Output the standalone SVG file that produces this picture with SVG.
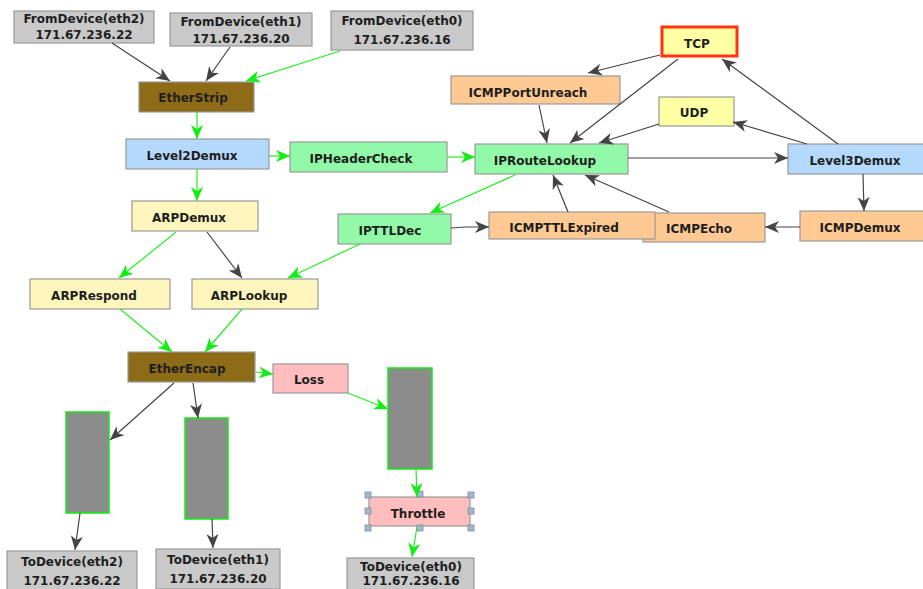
<svg xmlns="http://www.w3.org/2000/svg" width="923" height="589" viewBox="0 0 923 589">
<style>
.box{stroke:#999999;stroke-width:1.2}
.dev{fill:#c9c9c9}
.eth{fill:#8e6c17}
.demux{fill:#b5d9fc}
.ip{fill:#92f9a8}
.arp{fill:#fff6bd}
.yel{fill:#ffffa3}
.icmp{fill:#ffc993}
.pink{fill:#ffbdbd}
.bar{fill:#8c8c8c;stroke:#11ee11;stroke-width:1.5}
.t{font-family:"DejaVu Sans",Verdana,sans-serif;font-weight:bold;font-size:12px;fill:#1e1e1e;text-anchor:middle}
.t2{font-size:12px}
.g{fill:none;stroke:#444444;stroke-width:1.2}
.gr{fill:none;stroke:#22ee22;stroke-width:1.2}
.h{fill:#a4b8cc;stroke:#7d8ea0;stroke-width:0.8}
</style>
<defs>
<marker id="ag" viewBox="0 0 14 12" refX="14" refY="6" markerWidth="14" markerHeight="12" markerUnits="userSpaceOnUse" orient="auto"><path d="M0,0 L14,6 L0,12 L4,6 Z" fill="#444444"/></marker>
<marker id="agr" viewBox="0 0 14 12" refX="14" refY="6" markerWidth="14" markerHeight="12" markerUnits="userSpaceOnUse" orient="auto"><path d="M0,0 L14,6 L0,12 L4,6 Z" fill="#11ee11"/></marker>
</defs>
<rect width="923" height="589" fill="#ffffff"/>

<g id="fromdev2"><rect class="box dev" x="14" y="11" width="140" height="32"/><text class="t" x="84" y="23">FromDevice(eth2)</text><text class="t t2" x="84" y="39">171.67.236.22</text></g>
<g id="fromdev1"><rect class="box dev" x="170" y="13" width="142" height="33"/><text class="t" x="241" y="26">FromDevice(eth1)</text><text class="t t2" x="241" y="43">171.67.236.20</text></g>
<g id="fromdev0"><rect class="box dev" x="331" y="11" width="142" height="39"/><text class="t" x="402" y="25">FromDevice(eth0)</text><text class="t t2" x="402" y="44">171.67.236.16</text></g>
<g id="etherstrip"><rect class="box eth" x="139" y="82" width="115" height="30"/><text class="t" x="193" y="102">EtherStrip</text></g>
<g id="level2demux"><rect class="box demux" x="126" y="139" width="143" height="30"/><text class="t" x="192" y="160">Level2Demux</text></g>
<g id="ipheadercheck"><rect class="box ip" x="290" y="142" width="157" height="30"/><text class="t" x="361" y="163">IPHeaderCheck</text></g>
<g id="tcp"><rect x="662" y="27" width="75" height="29" fill="#ffffa3" stroke="#ff3311" stroke-width="3"/><text class="t" x="697" y="48">TCP</text></g>
<g id="icmpportunreach"><rect class="box icmp" x="451" y="76" width="169" height="28"/><text class="t" x="528" y="97">ICMPPortUnreach</text></g>
<g id="udp"><rect class="box yel" x="659" y="97" width="75" height="29"/><text class="t" x="694" y="117">UDP</text></g>
<g id="iproutelookup"><rect class="box ip" x="475" y="144" width="153" height="30"/><text class="t" x="545" y="165">IPRouteLookup</text></g>
<g id="level3demux"><rect class="box demux" x="788" y="144" width="138" height="30"/><text class="t" x="855" y="165">Level3Demux</text></g>
<g id="icmpecho"><rect class="box icmp" x="643" y="213" width="122" height="29"/><text class="t" x="699" y="233">ICMPEcho</text></g>
<g id="icmpttlexpired"><rect class="box icmp" x="489" y="212" width="166" height="27"/><text class="t" x="564" y="232">ICMPTTLExpired</text></g>
<g id="icmpdemux"><rect class="box icmp" x="800" y="211" width="126" height="30"/><text class="t" x="860" y="232">ICMPDemux</text></g>
<g id="arpdemux"><rect class="box arp" x="132" y="201" width="126" height="30"/><text class="t" x="189" y="222">ARPDemux</text></g>
<g id="ipttldec"><rect class="box ip" x="338" y="214" width="113" height="30"/><text class="t" x="390" y="235">IPTTLDec</text></g>
<g id="arprespond"><rect class="box arp" x="30" y="279" width="140" height="30"/><text class="t" x="94" y="300">ARPRespond</text></g>
<g id="arplookup"><rect class="box arp" x="192" y="279" width="126" height="30"/><text class="t" x="249" y="300">ARPLookup</text></g>
<g id="etherencap"><rect class="box eth" x="128" y="352" width="127" height="30"/><text class="t" x="187" y="373">EtherEncap</text></g>
<g id="loss"><rect class="box pink" x="273" y="364" width="75" height="29"/><text class="t" x="309" y="384">Loss</text></g>
<g id="queue2"><rect class="bar" x="66" y="412" width="43" height="101"/></g>
<g id="queue1"><rect class="bar" x="185" y="418" width="43" height="101"/></g>
<g id="queue0"><rect class="bar" x="388" y="368" width="44" height="101"/></g>
<g id="throttle"><rect class="box pink" x="369" y="497" width="101" height="29"/><text class="t" x="418" y="518">Throttle</text>
<rect class="h" x="365" y="492" width="6" height="6"/><rect class="h" x="417" y="491" width="6" height="6"/><rect class="h" x="468" y="492" width="6" height="6"/><rect class="h" x="365" y="508" width="6" height="6"/><rect class="h" x="468" y="508" width="6" height="6"/><rect class="h" x="365" y="525" width="6" height="6"/><rect class="h" x="417" y="525" width="6" height="6"/><rect class="h" x="468" y="525" width="6" height="6"/></g>
<g id="todev2"><rect class="box dev" x="7" y="551" width="130" height="40"/><text class="t" x="72" y="566">ToDevice(eth2)</text><text class="t t2" x="72" y="585">171.67.236.22</text></g>
<g id="todev1"><rect class="box dev" x="156" y="549" width="124" height="40"/><text class="t" x="218" y="564">ToDevice(eth1)</text><text class="t t2" x="218" y="583">171.67.236.20</text></g>
<g id="todev0"><rect class="box dev" x="347" y="558" width="127" height="40"/><text class="t" x="411" y="571">ToDevice(eth0)</text><text class="t t2" x="411" y="585">171.67.236.16</text></g>

<g id="connectors">
<line class="g" x1="112" y1="43" x2="170" y2="81" marker-end="url(#ag)"/>
<line class="g" x1="230" y1="47" x2="206" y2="81" marker-end="url(#ag)"/>
<line class="gr" x1="340" y1="51" x2="246" y2="81" marker-end="url(#agr)"/>
<line class="gr" x1="197" y1="112" x2="197" y2="139" marker-end="url(#agr)"/>
<line class="gr" x1="269" y1="156" x2="290" y2="156" marker-end="url(#agr)"/>
<line class="gr" x1="447" y1="157" x2="475" y2="157" marker-end="url(#agr)"/>
<line class="gr" x1="197" y1="169" x2="197" y2="201" marker-end="url(#agr)"/>
<line class="gr" x1="515" y1="175" x2="430" y2="213" marker-end="url(#agr)"/>
<polyline class="g" points="451,228 465,227 489,227" marker-end="url(#ag)"/>
<line class="gr" x1="360" y1="244" x2="288" y2="278" marker-end="url(#agr)"/>
<line class="gr" x1="176" y1="232" x2="119" y2="278" marker-end="url(#agr)"/>
<line class="g" x1="207" y1="232" x2="242" y2="278" marker-end="url(#ag)"/>
<line class="gr" x1="120" y1="309" x2="172" y2="352" marker-end="url(#agr)"/>
<line class="gr" x1="242" y1="309" x2="205" y2="352" marker-end="url(#agr)"/>
<line class="gr" x1="256" y1="372" x2="273" y2="374" marker-end="url(#agr)"/>
<line class="g" x1="174" y1="383" x2="110" y2="440" marker-end="url(#ag)"/>
<line class="g" x1="193" y1="383" x2="198" y2="418" marker-end="url(#ag)"/>
<line class="gr" x1="348" y1="393" x2="388" y2="409" marker-end="url(#agr)"/>
<line class="g" x1="80" y1="513" x2="75" y2="550" marker-end="url(#ag)"/>
<line class="g" x1="212" y1="519" x2="213" y2="548" marker-end="url(#ag)"/>
<line class="gr" x1="416" y1="469" x2="417" y2="497" marker-end="url(#agr)"/>
<line class="gr" x1="417" y1="527" x2="412" y2="557" marker-end="url(#agr)"/>
<line class="g" x1="660" y1="55" x2="588" y2="73" marker-end="url(#ag)"/>
<line class="g" x1="678" y1="59" x2="570" y2="143" marker-end="url(#ag)"/>
<line class="g" x1="539" y1="105" x2="547" y2="143" marker-end="url(#ag)"/>
<line class="g" x1="659" y1="124" x2="599" y2="143" marker-end="url(#ag)"/>
<line class="g" x1="628" y1="158" x2="788" y2="158" marker-end="url(#ag)"/>
<line class="g" x1="807" y1="144" x2="733" y2="122" marker-end="url(#ag)"/>
<line class="g" x1="838" y1="144" x2="722" y2="59" marker-end="url(#ag)"/>
<line class="g" x1="863" y1="174" x2="864" y2="211" marker-end="url(#ag)"/>
<line class="g" x1="800" y1="227" x2="765" y2="227" marker-end="url(#ag)"/>
<line class="g" x1="568" y1="212" x2="553" y2="175" marker-end="url(#ag)"/>
<line class="g" x1="669" y1="212" x2="585" y2="175" marker-end="url(#ag)"/>
</g>
</svg>
